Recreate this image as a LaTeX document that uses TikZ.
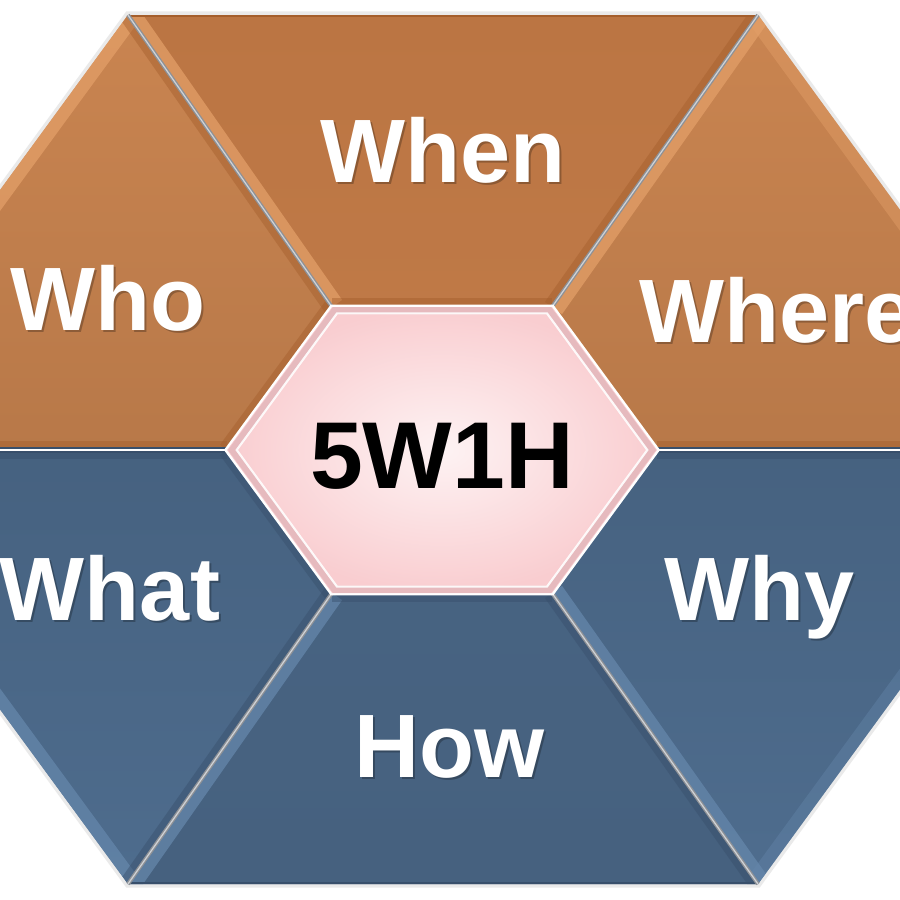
\documentclass[tikz,border=0pt]{standalone}
\usepackage{fontspec}
\setmainfont{Liberation Sans}
\usetikzlibrary{calc}
\definecolor{orBase}{HTML}{C8834F}
\definecolor{orTop}{HTML}{BB7543}
\definecolor{orLight}{HTML}{E39F68}
\definecolor{orDark}{HTML}{A45E2C}
\definecolor{blBase}{HTML}{4C6A8B}
\definecolor{blBot}{HTML}{46617F}
\definecolor{blLight}{HTML}{6587AB}
\definecolor{blDark}{HTML}{384F6B}
\definecolor{pkOut}{HTML}{F9CDD0}
\definecolor{pkEdge}{HTML}{E6BABE}
\definecolor{divGray}{HTML}{8E9196}
\definecolor{divLight}{HTML}{CFD2D6}
\tikzset{
  wlabel/.style={text=white, font=\bfseries\fontsize{25.6}{30}\selectfont, anchor=base, inner sep=0},
  shlabel/.style={text=black, opacity=0.25, font=\bfseries\fontsize{25.6}{30}\selectfont, anchor=base, inner sep=0},
  lband/.style={line width=7pt, opacity=0.75},
  dband/.style={line width=5pt, opacity=0.45},
  divider/.style={divGray, line width=1.1pt},
  dividerhi/.style={divLight, line width=0.35pt},
}
\begin{document}
\begin{tikzpicture}[x=0.01cm,y=-0.01cm]
\useasboundingbox (0,0) rectangle (900,900);
\fill[white] (0,0) rectangle (900,900);
\clip (0,0) rectangle (900,900);
% inner hexagon
\coordinate (I1) at (332,307);
\coordinate (I2) at (552,307);
\coordinate (I3) at (657,450);
\coordinate (I4) at (552,593);
\coordinate (I5) at (332,593);
\coordinate (I6) at (227,450);
% outer hexagon
\coordinate (O1) at (128,15);
\coordinate (O2) at (758,15);
\coordinate (O3) at (1075,450);
\coordinate (O4) at (758,884);
\coordinate (O5) at (128,884);
\coordinate (O6) at (-190,450);
\coordinate (C) at (442,450);
% soft outer shadow
\draw[black!20, line width=2pt, opacity=0.4, line join=miter] (O1)--(O2)--(O3)--(O4)--(O5)--(O6)--cycle;
% ---- When
\begin{scope}
\clip (O1)--(O2)--(I2)--(I1)--cycle;
\shade[top color=orTop, bottom color=orTop!90!orLight] (O1)--(O2)--(I2)--(I1)--cycle;
\draw[lband, orLight] (O1)--(I1);
\draw[dband, orDark] (O2)--(I2);
\draw[dband, orDark] (I1)--(I2);
\draw[orDark, line width=1pt] (O1)--(O2);
\end{scope}
% ---- Where
\begin{scope}
\clip (O2)--(O3)--(I3)--(I2)--cycle;
\shade[top color=orBase!95!orLight, bottom color=orBase!92!black] (O2)--(O3)--(I3)--(I2)--cycle;
\draw[lband, orLight] (O2)--(I2);
\draw[lband, orLight, opacity=0.45] (O2)--(O3);
\draw[dband, orDark] (I3)--(O3);
\end{scope}
% ---- Who
\begin{scope}
\clip (O6)--(O1)--(I1)--(I6)--cycle;
\shade[top color=orBase!95!orLight, bottom color=orBase!92!black] (O6)--(O1)--(I1)--(I6)--cycle;
\draw[lband, orLight] (O6)--(O1);
\draw[dband, orDark] (O1)--(I1);
\draw[dband, orDark] (I1)--(I6);
\draw[dband, orDark] (I6)--(O6);
\end{scope}
% ---- What
\begin{scope}
\clip (I6)--(O6)--(O5)--(I5)--cycle;
\shade[top color=blBase!92!black, bottom color=blBase!92!blLight] (I6)--(O6)--(O5)--(I5)--cycle;
\draw[lband, blLight] (O6)--(O5);
\draw[dband, blDark] (I5)--(O5);
\draw[dband, blDark] (I6)--(O6);
\draw[dband, blDark] (I5)--(I6);
\end{scope}
% ---- How
\begin{scope}
\clip (I5)--(O5)--(O4)--(I4)--cycle;
\shade[top color=blBot!95!blLight, bottom color=blBot] (I5)--(O5)--(O4)--(I4)--cycle;
\draw[lband, blLight] (I5)--(O5);
\draw[dband, blDark] (I4)--(O4);
\draw[dband, blDark] (I4)--(I5);
\draw[blDark, line width=1.2pt] (O5)--(O4);
\end{scope}
% ---- Why
\begin{scope}
\clip (I3)--(O3)--(O4)--(I4)--cycle;
\shade[top color=blBase!92!black, bottom color=blBase!90!blLight] (I3)--(O3)--(O4)--(I4)--cycle;
\draw[lband, blLight] (I4)--(O4);
\draw[lband, blLight, opacity=0.4] (O3)--(O4);
\draw[dband, blDark] (I3)--(O3);
\end{scope}
% ---- dividers
\draw[divider] (O1)--(I1);
\draw[dividerhi] (O1)--(I1);
\draw[divider] (O2)--(I2);
\draw[dividerhi] (O2)--(I2);
\draw[divider] (O5)--(I5);
\draw[dividerhi] (O5)--(I5);
\draw[divider] (O4)--(I4);
\draw[dividerhi] (O4)--(I4);
\draw[blDark, line width=1.6pt] (O6)--(I6);
\draw[white, line width=0.8pt] (O6)--(I6);
\draw[blDark, line width=1.6pt] (I3)--(O3);
\draw[white, line width=0.8pt] (I3)--(O3);
% ---- centre hexagon
\draw[white, line width=1.4pt, line join=miter] (I1)--(I2)--(I3)--(I4)--(I5)--(I6)--cycle;
\shade[inner color=pkOut!25!white, outer color=pkOut] (I1)--(I2)--(I3)--(I4)--(I5)--(I6)--cycle;
\draw[pkEdge, line width=2pt, line join=miter] ($(C)!0.975!(I1)$)--($(C)!0.975!(I2)$)--($(C)!0.975!(I3)$)--($(C)!0.975!(I4)$)--($(C)!0.975!(I5)$)--($(C)!0.975!(I6)$)--cycle;
\draw[white, line width=0.6pt, opacity=0.9, line join=miter] ($(C)!0.955!(I1)$)--($(C)!0.955!(I2)$)--($(C)!0.955!(I3)$)--($(C)!0.955!(I4)$)--($(C)!0.955!(I5)$)--($(C)!0.955!(I6)$)--cycle;
% ---- labels
\node[shlabel] (whensh) at (445,184) {When};
\node[wlabel] (when) at (443,182) {When};
\node[shlabel] (whosh) at (110,332) {Who};
\node[wlabel] (who) at (108,330) {Who};
\node[shlabel] (wheresh) at (779,344) {Where};
\node[wlabel] (where) at (777,342) {Where};
\node[shlabel] (whatsh) at (112,622) {What};
\node[wlabel] (what) at (110,620) {What};
\node[shlabel] (whysh) at (762,622) {Why};
\node[wlabel] (why) at (760,620) {Why};
\node[shlabel] (howsh) at (452,779) {How};
\node[wlabel] (how) at (450,777) {How};
\node[text=black, font=\bfseries\fontsize{27}{32}\selectfont, anchor=base, inner sep=0] (center) at (442,488) {5W1H};
\end{tikzpicture}
\end{document}
